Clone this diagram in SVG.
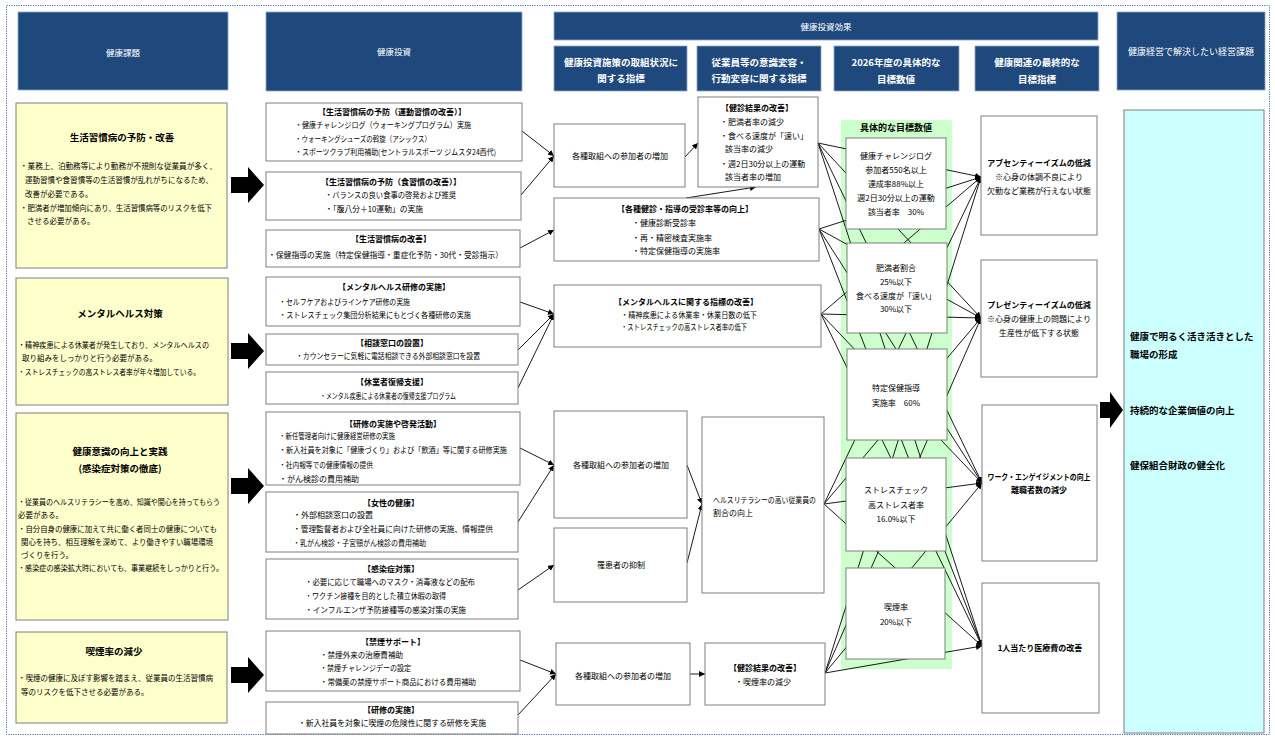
<svg xmlns="http://www.w3.org/2000/svg" width="1275" height="737" viewBox="0 0 1275 737">
<defs>
<marker id="ah" markerUnits="userSpaceOnUse" markerWidth="6" markerHeight="6" refX="6" refY="3" orient="auto">
<path d="M0,0 L6,3 L0,6 Z" fill="#000"/>
</marker>
<style>
text{font-family:"Noto Sans CJK JP","Noto Sans CJK SC",sans-serif;fill:#000;font-size:8px}
.hdr{fill:#1f497d;stroke:#8ea9c8;stroke-width:0.8}
.ht{fill:#fff;font-size:8.5px;text-anchor:middle}
.hb{fill:#fff;font-size:9.5px;font-weight:bold;text-anchor:middle}
.box{fill:#fff;stroke:#7f7f7f;stroke-width:1}
.ybox{fill:#ffffcc;stroke:#7f7f7f;stroke-width:1}
.s{font-size:7.5px}
.b{font-weight:bold}
.c{text-anchor:middle}
.tt{font-size:9.5px;font-weight:bold}
.ln{stroke:#000;stroke-width:0.9;fill:none;marker-end:url(#ah)}
.big{fill:#000}
</style>
</defs>
<rect width="1275" height="737" fill="#fff"/>
<rect x="6.5" y="5.5" width="1263" height="729" fill="none" stroke="#4a6fa5" stroke-width="1" stroke-dasharray="1.2 1.2"/>

<!-- headers -->
<g id="h-kadai"><rect class="hdr" x="18" y="12" width="210" height="78"/><text class="ht" x="123" y="56">健康課題</text></g>
<g id="h-toushi"><rect class="hdr" x="266" y="12" width="256" height="79"/><text class="ht" x="394" y="55">健康投資</text></g>
<g id="h-kouka"><rect class="hdr" x="554" y="12" width="544" height="28"/><text class="ht" x="826" y="30">健康投資効果</text></g>
<g id="h-sub1"><rect class="hdr" x="554" y="46" width="133" height="45"/><text class="hb" x="621" y="66">健康投資施策の取組状況に</text><text class="hb" x="621" y="82">関する指標</text></g>
<g id="h-sub2"><rect class="hdr" x="697" y="46" width="124" height="45"/><text class="hb" x="759" y="66">従業員等の意識変容・</text><text class="hb" x="759" y="82">行動変容に関する指標</text></g>
<g id="h-sub3"><rect class="hdr" x="834" y="46" width="125" height="45"/><text class="hb" x="896" y="66">2026年度の具体的な</text><text class="hb" x="896" y="83">目標数値</text></g>
<g id="h-sub4"><rect class="hdr" x="975" y="46" width="124" height="45"/><text class="hb" x="1037" y="66">健康関連の最終的な</text><text class="hb" x="1037" y="83">目標指標</text></g>
<g id="h-keiei"><rect class="hdr" x="1117" y="12" width="148" height="78"/><text class="ht" x="1191" y="55" style="font-size:9px">健康経営で解決したい経営課題</text></g>

<!-- health issues -->
<g id="issue1">
<rect class="ybox" x="16" y="103" width="211" height="165"/>
<text class="tt c" x="122" y="141">生活習慣病の予防・改善</text>
<text class="s" x="20" y="169" textLength="197" lengthAdjust="spacingAndGlyphs">・業務上、泊勤務等により勤務が不規則な従業員が多く、</text>
<text class="s" x="25" y="183" textLength="188" lengthAdjust="spacingAndGlyphs">運動習慣や食習慣等の生活習慣が乱れがちになるため、</text>
<text class="s" x="25" y="197">改善が必要である。</text>
<text class="s" x="20" y="211" textLength="192" lengthAdjust="spacingAndGlyphs">・肥満者が増加傾向にあり、生活習慣病等のリスクを低下</text>
<text class="s" x="27" y="224">させる必要がある。</text>
</g>
<g id="issue2">
<rect class="ybox" x="16" y="278" width="212" height="127"/>
<text class="tt c" x="120" y="317">メンタルヘルス対策</text>
<text class="s" x="18" y="348" textLength="191" lengthAdjust="spacingAndGlyphs">・精神疾患による休業者が発生しており、メンタルヘルスの</text>
<text class="s" x="22" y="361">取り組みをしっかりと行う必要がある。</text>
<text class="s" x="18" y="375" textLength="182" lengthAdjust="spacingAndGlyphs">・ストレスチェックの高ストレス者率が年々増加している。</text>
</g>
<g id="issue3">
<rect class="ybox" x="16" y="413" width="212" height="207"/>
<text class="tt c" x="120" y="455">健康意識の向上と実践</text>
<text class="tt c" x="120" y="472">(感染症対策の徹底)</text>
<text class="s" x="18" y="505" textLength="202" lengthAdjust="spacingAndGlyphs">・従業員のヘルスリテラシーを高め、知識や関心を持ってもらう</text>
<text class="s" x="18" y="518">必要がある。</text>
<text class="s" x="18" y="532" textLength="199" lengthAdjust="spacingAndGlyphs">・自分自身の健康に加えて共に働く者同士の健康についても</text>
<text class="s" x="21" y="545" textLength="192" lengthAdjust="spacingAndGlyphs">関心を持ち、相互理解を深めて、より働きやすい職場環境</text>
<text class="s" x="21" y="558">づくりを行う。</text>
<text class="s" x="18" y="571" textLength="205" lengthAdjust="spacingAndGlyphs">・感染症の感染拡大時においても、事業継続をしっかりと行う。</text>
</g>
<g id="issue4">
<rect class="ybox" x="16" y="632" width="211" height="91"/>
<text class="tt c" x="114" y="655">喫煙率の減少</text>
<text class="s" x="18" y="681" textLength="195" lengthAdjust="spacingAndGlyphs">・喫煙の健康に及ぼす影響を踏まえ、従業員の生活習慣病</text>
<text class="s" x="21" y="695">等のリスクを低下させる必要がある。</text>
</g>

<!-- big arrows -->
<g id="big-arrows">
<path class="big" d="M231,177 H248 V167 L264,185 L248,203 V193 H231 Z"/>
<path class="big" d="M231,343 H248 V333 L264,351 L248,369 V359 H231 Z"/>
<path class="big" d="M231,478 H248 V468 L264,486 L248,504 V494 H231 Z"/>
<path class="big" d="M231,667 H248 V657 L264,675 L248,693 V683 H231 Z"/>
<path class="big" d="M1100,402 H1110 V392 L1123,410 L1110,428 V418 H1100 Z"/>
</g>

<!-- green panel -->
<g id="target-panel">
<rect x="841" y="120" width="111" height="549" fill="#ccffcc"/>
<text class="b c" x="896" y="131" style="font-size:9px">具体的な目標数値</text>
</g>

<!-- connectors -->
<g id="connectors">
<line class="ln" x1="522" y1="131" x2="554" y2="156"/>
<line class="ln" x1="521" y1="195" x2="554" y2="156"/>
<line class="ln" x1="520" y1="248" x2="554" y2="230"/>
<line class="ln" x1="685" y1="157" x2="698" y2="143"/>
<line class="ln" x1="686" y1="198" x2="756" y2="187"/>
<line class="ln" x1="520" y1="302" x2="554" y2="314"/>
<line class="ln" x1="518" y1="350" x2="554" y2="314"/>
<line class="ln" x1="518" y1="388" x2="554" y2="314"/>
<line class="ln" x1="520" y1="448" x2="554" y2="465"/>
<line class="ln" x1="518" y1="522" x2="554" y2="465"/>
<line class="ln" x1="518" y1="590" x2="554" y2="565"/>
<line class="ln" x1="520" y1="660" x2="556" y2="674"/>
<line class="ln" x1="518" y1="715" x2="556" y2="674"/>
<line class="ln" x1="687" y1="465" x2="702" y2="504"/>
<line class="ln" x1="687" y1="563" x2="702" y2="504"/>
<line class="ln" x1="690" y1="674" x2="705" y2="674"/>
<!-- mesh -->
<line class="ln" x1="818" y1="143" x2="981" y2="177"/>
<line class="ln" x1="818" y1="143" x2="981" y2="318"/>
<line class="ln" x1="818" y1="143" x2="982" y2="483"/>
<line class="ln" x1="818" y1="143" x2="982" y2="646"/>
<line class="ln" x1="819" y1="229" x2="981" y2="177"/>
<line class="ln" x1="819" y1="229" x2="981" y2="318"/>
<line class="ln" x1="819" y1="229" x2="982" y2="483"/>
<line class="ln" x1="819" y1="229" x2="982" y2="646"/>
<line class="ln" x1="821" y1="314" x2="981" y2="177"/>
<line class="ln" x1="821" y1="314" x2="981" y2="318"/>
<line class="ln" x1="821" y1="314" x2="982" y2="483"/>
<line class="ln" x1="821" y1="314" x2="982" y2="646"/>
<line class="ln" x1="824" y1="504" x2="981" y2="177"/>
<line class="ln" x1="824" y1="504" x2="981" y2="318"/>
<line class="ln" x1="824" y1="504" x2="982" y2="483"/>
<line class="ln" x1="824" y1="504" x2="982" y2="646"/>
<line class="ln" x1="825" y1="673" x2="981" y2="177"/>
<line class="ln" x1="825" y1="673" x2="981" y2="318"/>
<line class="ln" x1="825" y1="673" x2="982" y2="483"/>
<line class="ln" x1="825" y1="673" x2="982" y2="646"/>
</g>

<!-- investments -->
<g id="inv1">
<rect class="box" x="266" y="103" width="256" height="58"/>
<text class="b c" x="392" y="115">【生活習慣病の予防（運動習慣の改善）】</text>
<text x="295" y="128" textLength="176" lengthAdjust="spacingAndGlyphs">・健康チャレンジログ（ウォーキングプログラム）実施</text>
<text x="295" y="142" textLength="136" lengthAdjust="spacingAndGlyphs">・ウォーキングシューズの斡旋（アシックス）</text>
<text x="295" y="155" textLength="201" lengthAdjust="spacingAndGlyphs">・スポーツクラブ利用補助(セントラルスポーツ ジムスタ24西代)</text>
</g>
<g id="inv2">
<rect class="box" x="266" y="172" width="255" height="48"/>
<text class="b c" x="391" y="185">【生活習慣病の予防（食習慣の改善）】</text>
<text x="325" y="198" textLength="131" lengthAdjust="spacingAndGlyphs">・バランスの良い食事の啓発および推奨</text>
<text x="325" y="212" textLength="98" lengthAdjust="spacingAndGlyphs">・「腹八分＋10運動」の実施</text>
</g>
<g id="inv3">
<rect class="box" x="266" y="230" width="254" height="37"/>
<text class="b c" x="391" y="242">【生活習慣病の改善】</text>
<text x="268" y="258" textLength="235" lengthAdjust="spacingAndGlyphs">・保健指導の実施（特定保健指導・重症化予防・30代・受診指示）</text>
</g>
<g id="inv4">
<rect class="box" x="266" y="277" width="254" height="49"/>
<text class="b c" x="394" y="290">【メンタルヘルス研修の実施】</text>
<text x="279" y="305" textLength="131" lengthAdjust="spacingAndGlyphs">・セルフケアおよびラインケア研修の実施</text>
<text x="279" y="318" textLength="192" lengthAdjust="spacingAndGlyphs">・ストレスチェック集団分析結果にもとづく各種研修の実施</text>
</g>
<g id="inv5">
<rect class="box" x="266" y="334" width="252" height="31"/>
<text class="b c" x="392" y="346">【相談窓口の設置】</text>
<text x="296" y="359" textLength="184" lengthAdjust="spacingAndGlyphs">・カウンセラーに気軽に電話相談できる外部相談窓口を設置</text>
</g>
<g id="inv6">
<rect class="box" x="266" y="372" width="252" height="32"/>
<text class="b c" x="392" y="385">【休業者復帰支援】</text>
<text x="320" y="399" textLength="136" lengthAdjust="spacingAndGlyphs">・メンタル疾患による休業者の復帰支援プログラム</text>
</g>
<g id="inv7">
<rect class="box" x="266" y="412" width="254" height="73"/>
<text class="b c" x="393" y="427">【研修の実施や啓発活動】</text>
<text x="279" y="439" textLength="116" lengthAdjust="spacingAndGlyphs">・新任管理者向けに健康経営研修の実施</text>
<text x="279" y="453" textLength="228" lengthAdjust="spacingAndGlyphs">・新入社員を対象に「健康づくり」および「飲酒」等に関する研修実施</text>
<text x="279" y="468" textLength="94" lengthAdjust="spacingAndGlyphs">・社内報等での健康情報の提供</text>
<text x="279" y="482">・がん検診の費用補助</text>
</g>
<g id="inv8">
<rect class="box" x="266" y="492" width="252" height="60"/>
<text class="b c" x="391" y="506">【女性の健康】</text>
<text x="293" y="518">・外部相談窓口の設置</text>
<text x="293" y="532" textLength="200" lengthAdjust="spacingAndGlyphs">・管理監督者および全社員に向けた研修の実施、情報提供</text>
<text x="293" y="546" textLength="133" lengthAdjust="spacingAndGlyphs">・乳がん検診・子宮頸がん検診の費用補助</text>
</g>
<g id="inv9">
<rect class="box" x="266" y="559" width="252" height="60"/>
<text class="b c" x="391" y="572">【感染症対策】</text>
<text x="305" y="585" textLength="170" lengthAdjust="spacingAndGlyphs">・必要に応じて職場へのマスク・消毒液などの配布</text>
<text x="305" y="599" textLength="141" lengthAdjust="spacingAndGlyphs">・ワクチン接種を目的とした積立休暇の取得</text>
<text x="305" y="613" textLength="161" lengthAdjust="spacingAndGlyphs">・インフルエンザ予防接種等の感染対策の実施</text>
</g>
<g id="inv10">
<rect class="box" x="266" y="631" width="254" height="60"/>
<text class="b c" x="393" y="645">【禁煙サポート】</text>
<text x="320" y="658" textLength="83" lengthAdjust="spacingAndGlyphs">・禁煙外来の治療費補助</text>
<text x="320" y="671" textLength="91" lengthAdjust="spacingAndGlyphs">・禁煙チャレンジデーの設定</text>
<text x="320" y="685" textLength="156" lengthAdjust="spacingAndGlyphs">・常備薬の禁煙サポート商品における費用補助</text>
</g>
<g id="inv11">
<rect class="box" x="266" y="702" width="252" height="32"/>
<text class="b c" x="391" y="713">【研修の実施】</text>
<text x="298" y="726" textLength="188" lengthAdjust="spacingAndGlyphs">・新入社員を対象に喫煙の危険性に関する研修を実施</text>
</g>

<!-- activity indicators -->
<g id="act1"><rect class="box" x="554" y="124" width="131" height="63"/><text class="c" x="620" y="159">各種取組への参加者の増加</text></g>
<g id="act2"><rect class="box" x="554" y="411" width="133" height="107"/><text class="c" x="621" y="468">各種取組への参加者の増加</text></g>
<g id="act3"><rect class="box" x="554" y="528" width="133" height="74"/><text class="c" x="621" y="568">罹患者の抑制</text></g>
<g id="act4"><rect class="box" x="556" y="643" width="134" height="62"/><text class="c" x="623" y="679">各種取組への参加者の増加</text></g>

<!-- behaviour indicators -->
<g id="beh1">
<rect class="box" x="698" y="97" width="120" height="90"/>
<text class="b c" x="757" y="111">【健診結果の改善】</text>
<text x="720" y="125">・肥満者率の減少</text>
<text x="720" y="139">・食べる速度が「速い」</text>
<text x="725" y="152">該当率の減少</text>
<text x="720" y="167">・週2日30分以上の運動</text>
<text x="725" y="180">該当者率の増加</text>
</g>
<g id="beh2">
<rect class="box" x="554" y="198" width="265" height="63"/>
<text class="b c" x="685" y="212">【各種健診・指導の受診率等の向上】</text>
<text x="632" y="226">・健康診断受診率</text>
<text x="632" y="241">・再・精密検査実施率</text>
<text x="632" y="254">・特定保健指導の実施率</text>
</g>
<g id="beh3">
<rect class="box" x="554" y="285" width="267" height="62"/>
<text class="b c" x="686" y="305">【メンタルヘルスに関する指標の改善】</text>
<text x="621" y="318" textLength="136" lengthAdjust="spacingAndGlyphs">・精神疾患による休業率・休業日数の低下</text>
<text x="621" y="330" textLength="126" lengthAdjust="spacingAndGlyphs">・ストレスチェックの高ストレス者率の低下</text>
</g>
<g id="beh4">
<rect class="box" x="702" y="417" width="122" height="176"/>
<text x="713" y="503" textLength="103" lengthAdjust="spacingAndGlyphs">ヘルスリテラシーの高い従業員の</text>
<text x="713" y="516">割合の向上</text>
</g>
<g id="beh5">
<rect class="box" x="705" y="643" width="120" height="62"/>
<text class="b c" x="765" y="671">【健診結果の改善】</text>
<text class="c" x="763" y="685">・喫煙率の減少</text>
</g>

<!-- targets -->
<g id="tgt1">
<rect class="box" x="846" y="138" width="100" height="91"/>
<text class="c" x="896" y="159">健康チャレンジログ</text>
<text class="c" x="896" y="173">参加者550名以上</text>
<text class="c" x="896" y="187">達成率88%以上</text>
<text class="c" x="896" y="201">週2日30分以上の運動</text>
<text class="c" x="896" y="215">該当者率　30%</text>
</g>
<g id="tgt2">
<rect class="box" x="847" y="243" width="100" height="90"/>
<text class="c" x="896" y="271">肥満者割合</text>
<text class="c" x="896" y="285">25%以下</text>
<text class="c" x="896" y="299">食べる速度が「速い」</text>
<text class="c" x="896" y="312">30%以下</text>
</g>
<g id="tgt3">
<rect class="box" x="847" y="349" width="100" height="91"/>
<text class="c" x="896" y="391">特定保健指導</text>
<text class="c" x="896" y="406">実施率　60%</text>
</g>
<g id="tgt4">
<rect class="box" x="846" y="458" width="100" height="93"/>
<text class="c" x="896" y="493">ストレスチェック</text>
<text class="c" x="896" y="508">高ストレス者率</text>
<text class="c" x="896" y="522">16.0%以下</text>
</g>
<g id="tgt5">
<rect class="box" x="846" y="568" width="99" height="91"/>
<text class="c" x="896" y="610">喫煙率</text>
<text class="c" x="896" y="625">20%以下</text>
</g>

<!-- final indicators -->
<g id="fin1">
<rect class="box" x="981" y="116" width="116" height="119"/>
<text class="b c" x="1039" y="166">アブセンティーイズムの低減</text>
<text class="c" x="1039" y="180">※心身の体調不良により</text>
<text class="c" x="1039" y="194">欠勤など業務が行えない状態</text>
</g>
<g id="fin2">
<rect class="box" x="981" y="260" width="116" height="117"/>
<text class="b c" x="1039" y="308">プレゼンティーイズムの低減</text>
<text class="c" x="1039" y="322">※心身の健康上の問題により</text>
<text class="c" x="1039" y="336">生産性が低下する状態</text>
</g>
<g id="fin3">
<rect class="box" x="982" y="405" width="115" height="156"/>
<text class="b c" x="1039" y="480" textLength="103" lengthAdjust="spacingAndGlyphs">ワーク・エンゲイジメントの向上</text>
<text class="b c" x="1039" y="493">離職者数の減少</text>
</g>
<g id="fin4">
<rect class="box" x="982" y="583" width="117" height="130"/>
<text class="b c" x="1040" y="651">1人当たり医療費の改善</text>
</g>

<!-- management issues -->
<g id="mgmt">
<rect x="1124" y="110" width="140" height="623" fill="#ccffff" stroke="#7f7f7f" stroke-width="1"/>
<text class="tt" x="1130" y="340">健康で明るく活き活きとした</text>
<text class="tt" x="1130" y="358">職場の形成</text>
<text class="tt" x="1130" y="414">持続的な企業価値の向上</text>
<text class="tt" x="1130" y="469">健保組合財政の健全化</text>
</g>
</svg>
